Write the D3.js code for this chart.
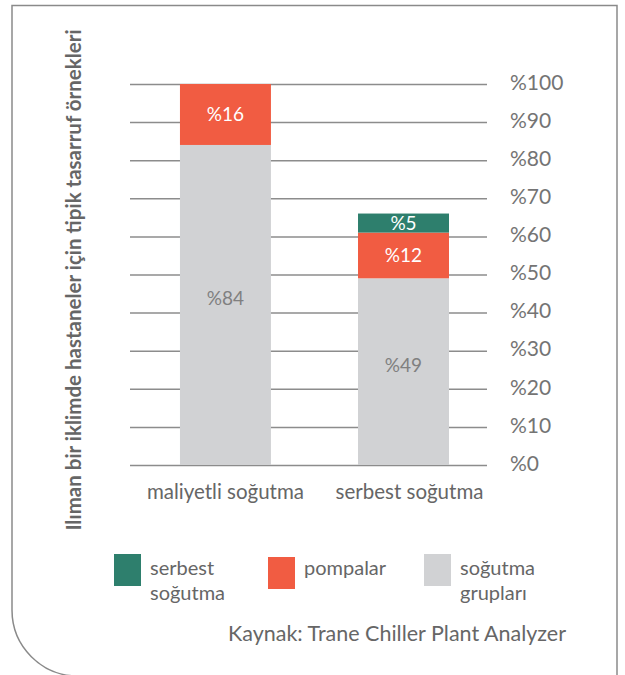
<!DOCTYPE html>
<html>
<head>
<meta charset="utf-8">
<script src="https://cdn.jsdelivr.net/npm/d3@7"></script>
<style>
  body { margin: 0; background: #fff; }
  text { font-family: Lato, 'Open Sans', sans-serif; }
</style>
</head>
<body>
<div id="chart-area"></div>
<script>
var categories = ['maliyetli soğutma', 'serbest soğutma'];
var groupValues = [84, 49];   // soğutma grupları
var pumpValues = [16, 12];    // pompalar
var freeValues = [0, 5];      // serbest soğutma
var tickValues = [0, 10, 20, 30, 40, 50, 60, 70, 80, 90, 100];
var legendLabels = [['serbest', 'soğutma'], ['pompalar'], ['soğutma', 'grupları']];

var colors = { free: '#2e7f6d', pump: '#f15c42', group: '#d1d2d4' };

var W = 625, H = 675;
var svg = d3.select('#chart-area')
  .append('svg')
  .attr('width', W)
  .attr('height', H);

// frame with rounded bottom-left corner
svg.append('path')
  .attr('d', 'M617,675 L617,5.5 L12,5.5 L12,610 A66,66 0 0 0 78,676')
  .attr('fill', 'none')
  .attr('stroke', '#8a8a8a')
  .attr('stroke-width', 1.5);

var margin = { left: 130, top: 84 };
var width = 357, height = 381;

var g = svg.append('g')
  .attr('transform', 'translate(' + margin.left + ', ' + margin.top + ')');

var y = d3.scaleLinear().domain([0, 100]).range([height, 0]);
var x = d3.scaleBand()
  .domain(categories)
  .range([0, width])
  .paddingInner(0.489)
  .paddingOuter(0.247)
  .align(0.568);

// grid lines
g.selectAll('line.grid')
  .data(tickValues)
  .enter().append('line')
    .attr('class', 'grid')
    .attr('x1', 0)
    .attr('x2', width)
    .attr('y1', function(d) { return y(d) + 0.5; })
    .attr('y2', function(d) { return y(d) + 0.5; })
    .attr('stroke', '#8c8c8c')
    .attr('stroke-width', 1.5);

// right axis labels
var yAxisCall = d3.axisRight(y)
  .tickValues(tickValues)
  .tickSize(0)
  .tickPadding(23)
  .tickFormat(function(d) { return '%' + d; });
var yAxis = g.append('g')
  .attr('transform', 'translate(' + width + ', 0)')
  .call(yAxisCall);
yAxis.select('.domain').remove();
yAxis.selectAll('text')
  .attr('font-size', '21px')
  .attr('fill', '#747474')
  .attr('font-family', 'Lato, sans-serif')
  .attr('dy', '0.25em');

// stacked data
var stacks = categories.map(function(c, i) {
  var g0 = groupValues[i], p = pumpValues[i], f = freeValues[i];
  return [
    { cat: c, key: 'group', y0: 0, y1: g0, v: g0 },
    { cat: c, key: 'pump', y0: g0, y1: g0 + p, v: p },
    { cat: c, key: 'free', y0: g0 + p, y1: g0 + p + f, v: f }
  ];
});
var segs = d3.merge(stacks).filter(function(d) { return d.v > 0; });

g.selectAll('rect.seg')
  .data(segs)
  .enter().append('rect')
    .attr('class', 'seg')
    .attr('x', function(d) { return x(d.cat); })
    .attr('width', x.bandwidth())
    .attr('y', function(d) { return y(d.y1); })
    .attr('height', function(d) { return y(d.y0) - y(d.y1); })
    .attr('fill', function(d) { return colors[d.key]; });

g.selectAll('text.val')
  .data(segs)
  .enter().append('text')
    .attr('class', 'val')
    .attr('x', function(d) { return x(d.cat) + x.bandwidth() / 2; })
    .attr('y', function(d) { return (y(d.y0) + y(d.y1)) / 2; })
    .attr('dy', function(d) { return d.key === 'group' ? '0em' : '0.35em'; })
    .attr('text-anchor', 'middle')
    .attr('font-size', '19px')
    .attr('fill', function(d) { return d.key === 'group' ? '#808080' : '#ffffff'; })
    .text(function(d) { return '%' + d.v; });

// category labels
g.selectAll('text.cat')
  .data(categories)
  .enter().append('text')
    .attr('class', 'cat')
    .attr('x', function(d, i) { return x(d) + x.bandwidth() / 2 + i * 6; })
    .attr('y', height + 34)
    .attr('text-anchor', 'middle')
    .attr('font-size', '20.5px')
    .attr('fill', '#666')
    .text(function(d) { return d; });

// y title
svg.append('text')
  .attr('transform', 'translate(81, 280) rotate(-90)')
  .attr('text-anchor', 'middle')
  .attr('font-size', '20.5px')
  .attr('font-weight', 'bold')
  .attr('fill', '#666')
  .text('Ilıman bir iklimde hastaneler için tipik tasarruf örnekleri');

// legend
var legendX = [114, 268, 424];
var legendY = [554, 557, 554];
var legendKeys = ['free', 'pump', 'group'];
var leg = svg.selectAll('g.leg')
  .data(legendKeys)
  .enter().append('g')
    .attr('class', 'leg')
    .attr('transform', function(d, i) { return 'translate(' + legendX[i] + ',' + legendY[i] + ')'; });
leg.append('rect')
  .attr('width', 27)
  .attr('height', 32)
  .attr('fill', function(d) { return colors[d]; });
leg.append('text')
  .attr('x', 36)
  .attr('y', function(d, i) { return i === 1 ? 18 : 21; })
  .attr('font-size', '20px')
  .attr('fill', '#666')
  .selectAll('tspan')
  .data(function(d, i) { return legendLabels[i]; })
  .enter().append('tspan')
    .attr('x', 36)
    .attr('dy', function(d, i) { return i === 0 ? 0 : 25; })
    .text(function(d) { return d; });

// source
svg.append('text')
  .attr('x', 566)
  .attr('y', 641)
  .attr('text-anchor', 'end')
  .attr('font-size', '21.5px')
  .attr('fill', '#666')
  .text('Kaynak: Trane Chiller Plant Analyzer');
</script>
</body>
</html>
